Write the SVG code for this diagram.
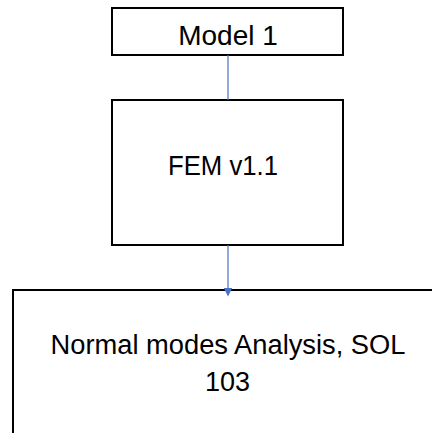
<svg xmlns="http://www.w3.org/2000/svg" width="432" height="433" viewBox="0 0 432 433">
<style>
.box{fill:#fff;stroke:#000;stroke-width:2}
.lbl{font-family:"Liberation Sans",Arial,sans-serif;font-size:27px;fill:#000;text-anchor:middle}
.big{font-size:28px}
.conn{stroke:#4a72c4;stroke-width:1.2;fill:none}
</style>
<defs>
<marker id="arr" viewBox="0 0 10 10" refX="5" refY="5" markerWidth="9" markerHeight="9" markerUnits="userSpaceOnUse" orient="auto">
<path d="M0,0 L10,5 L0,10 z" fill="#4a72c4"/>
</marker>
</defs>
<rect width="432" height="433" fill="#fff"/>
<g id="model1">
<rect class="box" x="112" y="8" width="231" height="47"/>
<text class="lbl big" x="228" y="45">Model 1</text>
</g>
<g id="fem">
<rect class="box" x="112" y="100" width="231" height="145"/>
<text class="lbl big" x="223" y="175" textLength="110" lengthAdjust="spacingAndGlyphs">FEM v1.1</text>
</g>
<g id="normal-modes">
<path class="box" d="M13,434 L13,290 L434,290" fill="none"/>
<text class="lbl" x="228" y="354" textLength="355" lengthAdjust="spacingAndGlyphs">Normal modes Analysis, SOL</text>
<text class="lbl" x="227.5" y="391">103</text>
</g>
<g id="connectors">
<line class="conn" x1="228" y1="55" x2="228" y2="100" stroke="#7f93b0"/>
<line class="conn" x1="228" y1="245" x2="228" y2="292" marker-end="url(#arr)"/>
</g>
</svg>
